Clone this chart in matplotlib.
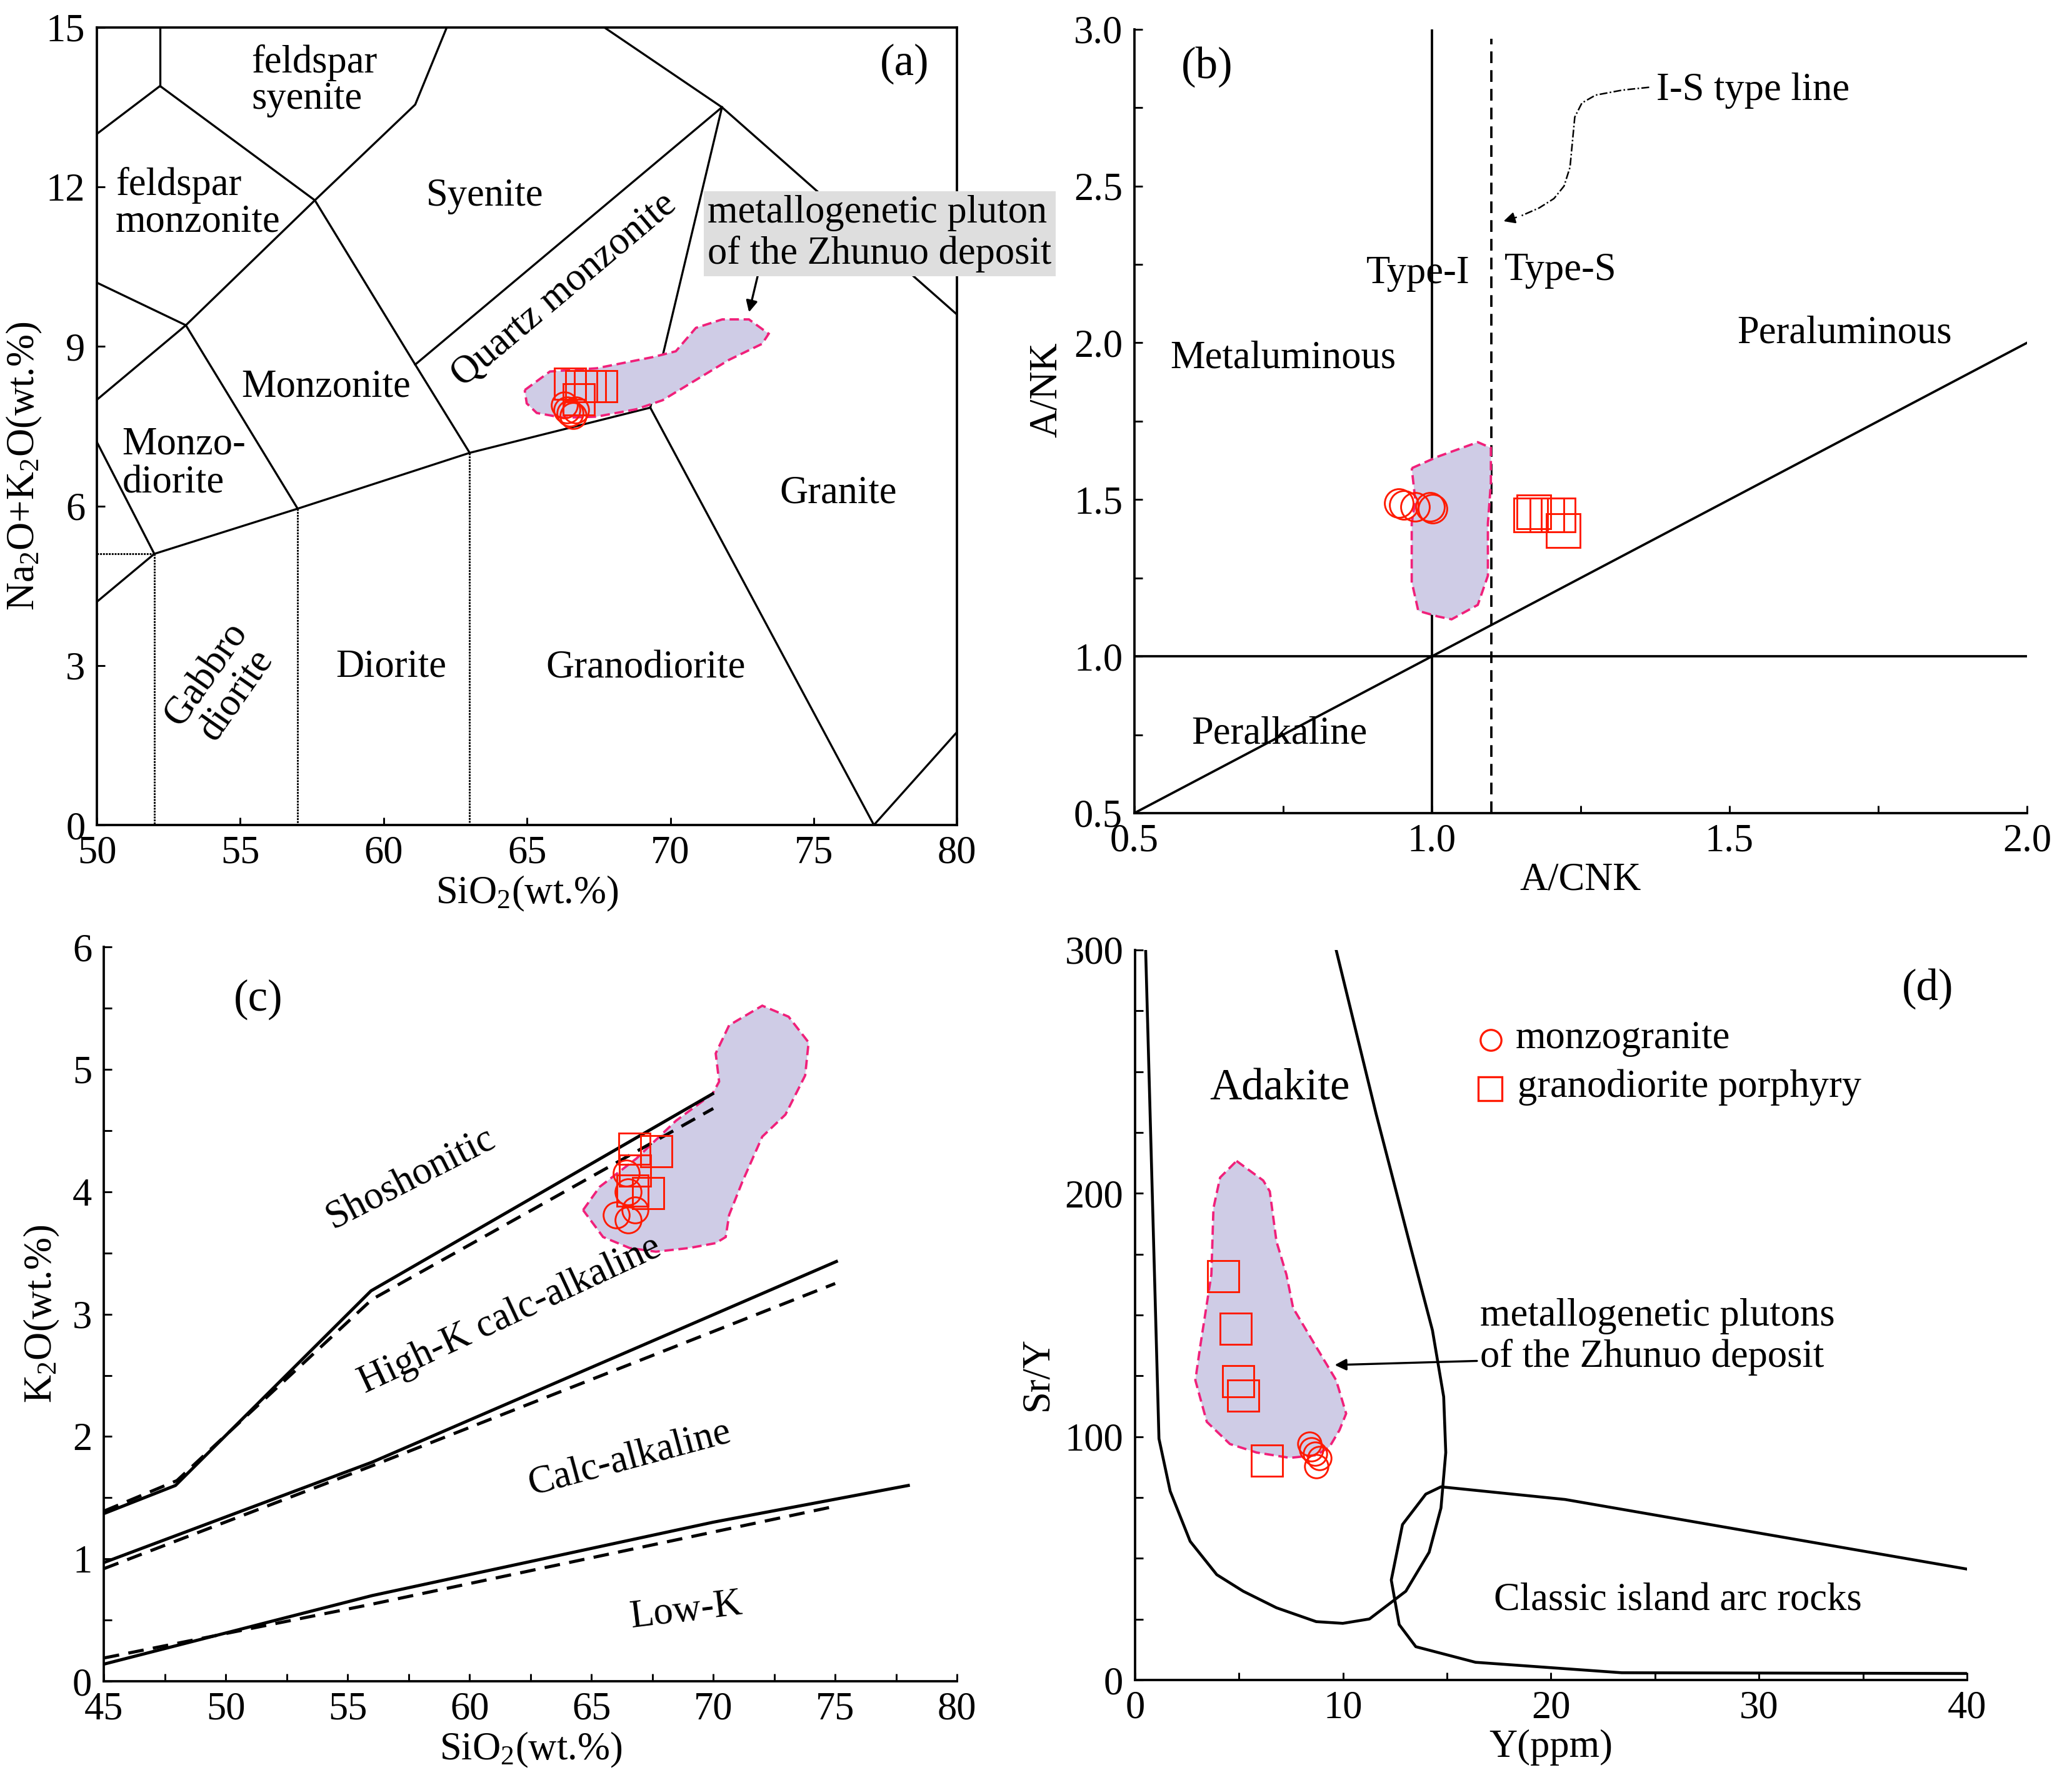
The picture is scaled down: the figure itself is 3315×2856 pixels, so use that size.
import matplotlib
matplotlib.use("Agg")
import matplotlib.pyplot as plt
from matplotlib.ticker import MultipleLocator

plt.rcParams['font.family'] = ['Liberation Serif', 'DejaVu Serif']
plt.rcParams['mathtext.fontset'] = 'custom'
plt.rcParams['mathtext.rm'] = 'Liberation Serif'
plt.rcParams['mathtext.it'] = 'Liberation Serif:italic'

FILL = '#cfcce6'
EDGE = '#f0207a'
RED = '#ff1a00'

# ---------------- (a) TAS diagram data ----------------
tas_lines = [
    [(52.2, 15.0), (52.2, 13.9)],
    [(50.0, 13.0), (52.2, 13.9), (57.6, 11.75), (61.1, 13.55), (62.2, 15.0)],
    [(57.6, 11.75), (53.1, 9.4), (50.0, 8.0)],
    [(50.0, 10.2), (53.1, 9.4), (57.0, 5.95)],
    [(57.6, 11.75), (61.1, 8.66), (63.0, 7.0)],
    [(50.0, 7.2), (52.0, 5.1)],
    [(50.0, 4.2), (52.0, 5.1)],
    [(52.0, 5.1), (57.0, 5.95), (63.0, 7.0), (69.3, 7.85)],
    [(69.3, 7.85), (77.1, 0.0), (80.0, 1.75)],
    [(69.3, 7.85), (71.8, 13.5)],
    [(61.1, 8.66), (71.8, 13.5)],
    [(67.7, 15.0), (71.8, 13.5), (80.0, 9.6)],
]
tas_dotted = [
    [(50.0, 5.1), (52.0, 5.1)],
    [(52.0, 5.1), (52.0, 0.0)],
    [(57.0, 5.95), (57.0, 0.0)],
    [(63.0, 7.0), (63.0, 0.0)],
]
a_field_x = [64.92, 65.80, 67.42, 69.38, 70.19, 70.89, 71.81, 72.74, 73.43, 73.20,
             72.05, 70.89, 69.73, 68.81, 67.42, 66.26, 65.34, 64.99]
a_field_y = [8.18, 8.53, 8.59, 8.80, 8.91, 9.35, 9.51, 9.51, 9.24, 9.05,
             8.75, 8.37, 7.99, 7.82, 7.68, 7.66, 7.75, 7.93]
a_circ_x = [66.3, 66.4, 66.6, 66.5, 66.7]
a_circ_y = [7.9, 7.8, 7.7, 7.75, 7.8]
a_sq_x = [66.5, 66.9, 67.2, 67.6, 66.8]
a_sq_y = [8.3, 8.25, 8.25, 8.25, 8.0]

# ---------------- (b) A/CNK - A/NK data ----------------
b_field_x = [0.966, 1.010, 1.077, 1.099, 1.099, 1.094, 1.094, 1.077, 1.033, 1.010,
             0.977, 0.966, 0.966, 0.972]
b_field_y = [1.600, 1.637, 1.683, 1.665, 1.553, 1.424, 1.257, 1.164, 1.118, 1.127,
             1.145, 1.238, 1.424, 1.498]
b_circ_x = [0.944, 0.953, 0.972, 0.997, 1.001]
b_circ_y = [1.489, 1.483, 1.476, 1.476, 1.470]
b_sq_x = [1.166, 1.171, 1.193, 1.212, 1.221]
b_sq_y = [1.451, 1.460, 1.451, 1.451, 1.401]
is_curve_x = [1.365, 1.32, 1.275, 1.252, 1.240, 1.236, 1.232, 1.222, 1.205, 1.18, 1.15]
is_curve_y = [2.815, 2.806, 2.79, 2.765, 2.72, 2.64, 2.56, 2.50, 2.46, 2.43, 2.405]

# ---------------- (c) SiO2 - K2O data ----------------
c_solid = [
    ([45, 47.94, 55.96, 69.97], [1.37, 1.60, 3.19, 4.80]),
    ([45, 56, 75.05], [0.97, 1.79, 3.43]),
    ([45, 56, 70, 78], [0.14, 0.70, 1.30, 1.60]),
]
c_dashed = [
    ([45, 48, 56, 70], [1.39, 1.64, 3.12, 4.68]),
    ([45, 56, 75], [0.92, 1.76, 3.25]),
    ([45, 56, 75], [0.19, 0.63, 1.43]),
]
c_field_x = [64.66, 65.34, 66.84, 68.47, 69.97, 70.24, 70.10, 70.65, 72.01, 73.09, 73.91,
             73.77, 72.96, 72.01, 71.19, 70.65, 70.51, 70.10, 69.01, 67.65, 66.57, 65.48, 65.07]
c_field_y = [3.85, 4.04, 4.27, 4.58, 4.80, 4.90, 5.13, 5.36, 5.52, 5.43, 5.22,
             4.95, 4.63, 4.45, 4.08, 3.81, 3.63, 3.58, 3.54, 3.51, 3.54, 3.63, 3.74]
c_sq_x = [66.76, 67.65, 66.78, 66.70, 67.33]
c_sq_y = [4.35, 4.33, 4.17, 4.01, 3.99]
c_circ_x = [66.43, 66.51, 66.02, 66.51, 66.78]
c_circ_y = [4.15, 4.00, 3.81, 3.77, 3.85]

# ---------------- (d) Y - Sr/Y data ----------------
adakite_x = [0.51, 1.15, 1.69, 2.65, 3.93, 5.20, 6.80, 8.71, 9.99, 11.27, 13.02, 14.14,
             14.71, 14.94, 14.84, 14.30, 13.18, 11.59, 9.67]
adakite_y = [300, 99.2, 77.6, 57.0, 43.3, 36.5, 29.7, 24.0, 23.3, 25.1, 36.5, 52.5,
             70.7, 93.5, 116.4, 143.7, 180.2, 232.7, 300]
arc_x = [40, 20.68, 14.71, 13.98, 12.86, 12.32, 12.70, 13.5, 16.37, 23.4, 40]
arc_y = [45.6, 74.2, 79.4, 76.4, 63.9, 41.1, 22.8, 13.7, 7.3, 3.0, 2.7]
d_field_x = [4.88, 6.16, 6.48, 6.80, 7.28, 7.60, 8.71, 9.67, 10.15, 9.83, 9.35, 8.71,
             7.44, 5.84, 4.56, 3.45, 2.90, 3.13, 3.67, 3.77, 4.09]
d_field_y = [213.3, 205.3, 200.8, 180.2, 166.6, 152.9, 136.9, 123.2, 109.5, 102.7, 95.8,
             92.4, 91.3, 93.5, 97.0, 106.1, 123.2, 136.9, 166.6, 193.9, 206.5]
d_sq_x = [4.25, 4.85, 4.95, 5.20, 6.35]
d_sq_y = [165.9, 144.4, 122.7, 117.0, 90.1]
d_circ_x = [8.39, 8.49, 8.65, 8.87, 8.71]
d_circ_y = [97.0, 94.7, 93.1, 91.3, 87.8]


fig = plt.figure(figsize=(11.05, 9.52), dpi=300)
axa = fig.add_axes([0.0468, 0.5378, 0.4151, 0.4468])
axb = fig.add_axes([0.5475, 0.5445, 0.4308, 0.4391])
axc = fig.add_axes([0.0501, 0.0581, 0.4118, 0.4114])
axd = fig.add_axes([0.5478, 0.0588, 0.4015, 0.4090])

FS = 15
TFS = 15


def style(ax):
    ax.tick_params(direction='in', which='both', labelsize=TFS, length=3, width=0.7)
    ax.tick_params(axis='x', which='both', pad=4)
    ax.tick_params(axis='y', which='both', pad=4.5)
    for s in ax.spines.values():
        s.set_linewidth(0.9)


def field(ax, x, y):
    ax.fill(x, y, facecolor=FILL, edgecolor=EDGE, linestyle=(0, (4, 2)), linewidth=0.9, zorder=2)


def samples(ax, cx, cy, sx, sy, cs=11, ss=13):
    ax.plot(sx, sy, 's', ms=ss, mfc='none', mec=RED, mew=0.7, ls='none', zorder=4)
    ax.plot(cx, cy, 'o', ms=cs, mfc='none', mec=RED, mew=0.7, ls='none', zorder=4)


# ---- (a)
for ln in tas_lines:
    xs, ys = zip(*ln)
    axa.plot(xs, ys, color='k', lw=0.8, zorder=1)
for ln in tas_dotted:
    xs, ys = zip(*ln)
    axa.plot(xs, ys, color='k', lw=0.7, ls=(0, (1, 0.6)), zorder=1)
field(axa, a_field_x, a_field_y)
samples(axa, a_circ_x, a_circ_y, a_sq_x, a_sq_y, cs=10, ss=12)
axa.set_xlim(50, 80)
axa.set_ylim(0, 15)
axa.set_xticks(range(50, 81, 5))
axa.set_yticks(range(0, 16, 3))
style(axa)
axa.set_xlabel('SiO$_2$(wt.%)', fontsize=FS, labelpad=1)
axa.set_ylabel('Na$_2$O+K$_2$O(wt.%)', fontsize=FS)
axa.yaxis.set_label_coords(-0.062, 0.45)
axa.text(55.39, 14.0, 'feldspar\nsyenite', fontsize=FS, ha='left', va='center', linespacing=1.0)
axa.text(50.65, 11.69, 'feldspar\nmonzonite', fontsize=FS, ha='left', va='center', linespacing=1.0)
axa.text(63.53, 11.83, 'Syenite', fontsize=FS, ha='center', va='center')
axa.text(66.31, 10.06, 'Quartz monzonite', fontsize=FS, ha='center', va='center', rotation=40)
axa.text(57.98, 8.23, 'Monzonite', fontsize=FS, ha='center', va='center')
axa.text(50.88, 6.79, 'Monzo-\ndiorite', fontsize=FS, ha='left', va='center', linespacing=1.1)
axa.text(75.86, 6.24, 'Granite', fontsize=FS, ha='center', va='center')
axa.text(54.35, 2.64, 'Gabbro\ndiorite', fontsize=FS, ha='center', va='center', rotation=55, linespacing=1.0)
axa.text(60.25, 2.97, 'Diorite', fontsize=FS, ha='center', va='center')
axa.text(69.15, 2.95, 'Granodiorite', fontsize=FS, ha='center', va='center')
axa.text(78.17, 14.31, '(a)', fontsize=17, ha='center', va='center')
axa.text(71.3, 11.85, 'metallogenetic pluton\nof the Zhunuo deposit', fontsize=FS, ha='left', va='top',
         linespacing=1.15, clip_on=False, zorder=5,
         bbox=dict(facecolor='#dedede', edgecolor='none', pad=1.5))
axa.annotate('', xy=(72.7, 9.55), xytext=(73.1, 10.45),
             arrowprops=dict(arrowstyle='-|>', color='k', lw=0.8, mutation_scale=9))

# ---- (b)
axb.plot([1.0, 1.0], [0.5, 3.0], color='k', lw=0.9)
axb.plot([1.1, 1.1], [0.5, 2.97], color='k', lw=0.9, ls=(0, (5, 3)))
axb.plot([0.5, 2.0], [1.0, 1.0], color='k', lw=0.9)
axb.plot([0.5, 2.0], [0.5, 2.0], color='k', lw=0.9)
field(axb, b_field_x, b_field_y)
samples(axb, b_circ_x, b_circ_y, b_sq_x, b_sq_y, cs=11, ss=13)
axb.plot(is_curve_x, is_curve_y, color='k', lw=0.6, ls=(0, (5, 1.5, 1, 1.5)))
axb.annotate('', xy=(1.112, 2.383), xytext=(is_curve_x[-1], is_curve_y[-1]),
             arrowprops=dict(arrowstyle='-|>', color='k', lw=0.6, mutation_scale=9))
axb.text(1.377, 2.805, 'I-S type line', fontsize=FS, ha='left', va='center')
axb.set_xlim(0.5, 2.0)
axb.set_ylim(0.5, 3.0)
axb.set_xticks([0.5, 1.0, 1.5, 2.0])
axb.set_yticks([0.5, 1.0, 1.5, 2.0, 2.5, 3.0])
axb.xaxis.set_minor_locator(MultipleLocator(0.25))
axb.yaxis.set_minor_locator(MultipleLocator(0.25))
axb.xaxis.set_major_formatter(lambda v, p: '%.1f' % v)
axb.yaxis.set_major_formatter(lambda v, p: '%.1f' % v)
axb.spines['top'].set_visible(False)
axb.spines['right'].set_visible(False)
style(axb)
axb.set_xlabel('A/CNK', fontsize=FS, labelpad=1)
axb.set_ylabel('A/NK', fontsize=FS)
axb.yaxis.set_label_coords(-0.078, 0.54)
axb.text(0.622, 2.88, '(b)', fontsize=17, ha='center', va='center')
axb.text(0.977, 2.22, 'Type-I', fontsize=FS, ha='center', va='center')
axb.text(1.216, 2.23, 'Type-S', fontsize=FS, ha='center', va='center')
axb.text(0.75, 1.95, 'Metaluminous', fontsize=FS, ha='center', va='center')
axb.text(1.693, 2.03, 'Peraluminous', fontsize=FS, ha='center', va='center')
axb.text(0.744, 0.752, 'Peralkaline', fontsize=FS, ha='center', va='center')

# ---- (c)
for xs, ys in c_solid:
    axc.plot(xs, ys, color='k', lw=1.2, zorder=3)
for xs, ys in c_dashed:
    axc.plot(xs, ys, color='k', lw=1.2, ls=(0, (5, 3)), zorder=3)
field(axc, c_field_x, c_field_y)
samples(axc, c_circ_x, c_circ_y, c_sq_x, c_sq_y, cs=10, ss=12)
axc.set_xlim(45, 80)
axc.set_ylim(0, 6)
axc.set_xticks(range(45, 81, 5))
axc.set_yticks(range(0, 7))
axc.xaxis.set_minor_locator(MultipleLocator(2.5))
axc.yaxis.set_minor_locator(MultipleLocator(0.5))
axc.spines['top'].set_visible(False)
axc.spines['right'].set_visible(False)
style(axc)
axc.set_xlabel('SiO$_2$(wt.%)', fontsize=FS, labelpad=1)
axc.set_ylabel('K$_2$O(wt.%)', fontsize=FS)
axc.yaxis.set_label_coords(-0.05, 0.5)
axc.text(51.34, 5.57, '(c)', fontsize=17, ha='center', va='center')
axc.text(57.59, 4.11, 'Shoshonitic', fontsize=FS, ha='center', va='center', rotation=27)
axc.text(61.67, 2.99, 'High-K calc-alkaline', fontsize=FS, ha='center', va='center', rotation=25)
axc.text(66.57, 1.82, 'Calc-alkaline', fontsize=FS, ha='center', va='center', rotation=15)
axc.text(68.88, 0.57, 'Low-K', fontsize=FS, ha='center', va='center', rotation=7)

# ---- (d)
axd.plot(adakite_x, adakite_y, color='k', lw=1.1, zorder=3)
axd.plot(arc_x, arc_y, color='k', lw=1.1, zorder=3)
field(axd, d_field_x, d_field_y)
samples(axd, d_circ_x, d_circ_y, d_sq_x, d_sq_y, cs=9, ss=12)
axd.set_xlim(0, 40)
axd.set_ylim(0, 300)
axd.set_xticks(range(0, 41, 10))
axd.set_yticks(range(0, 301, 100))
axd.xaxis.set_minor_locator(MultipleLocator(5))
axd.yaxis.set_minor_locator(MultipleLocator(25))
axd.spines['top'].set_visible(False)
axd.spines['right'].set_visible(False)
style(axd)
axd.set_xlabel('Y(ppm)', fontsize=FS, labelpad=1)
axd.set_ylabel('Sr/Y', fontsize=FS)
axd.yaxis.set_label_coords(-0.095, 0.42)
axd.text(38.1, 284, '(d)', fontsize=17, ha='center', va='center')
axd.text(6.96, 243, 'Adakite', fontsize=17, ha='center', va='center')
axd.text(26.1, 32.4, 'Classic island arc rocks', fontsize=FS, ha='center', va='center')
axd.text(16.6, 141, 'metallogenetic plutons\nof the Zhunuo deposit', fontsize=FS, ha='left',
         va='center', linespacing=1.15)
axd.annotate('', xy=(9.35, 129.4), xytext=(16.69, 131.2),
             arrowprops=dict(arrowstyle='-|>', color='k', lw=0.8, mutation_scale=9))
# legend
axd.plot([17.1], [263], 'o', ms=8, mfc='none', mec=RED, mew=0.8)
axd.plot([17.08], [243], 's', ms=9, mfc='none', mec=RED, mew=0.8)
axd.text(18.3, 263.5, 'monzogranite', fontsize=FS, ha='left', va='center')
axd.text(18.4, 243.5, 'granodiorite porphyry', fontsize=FS, ha='left', va='center')

fig.savefig('out.png', dpi=300)
